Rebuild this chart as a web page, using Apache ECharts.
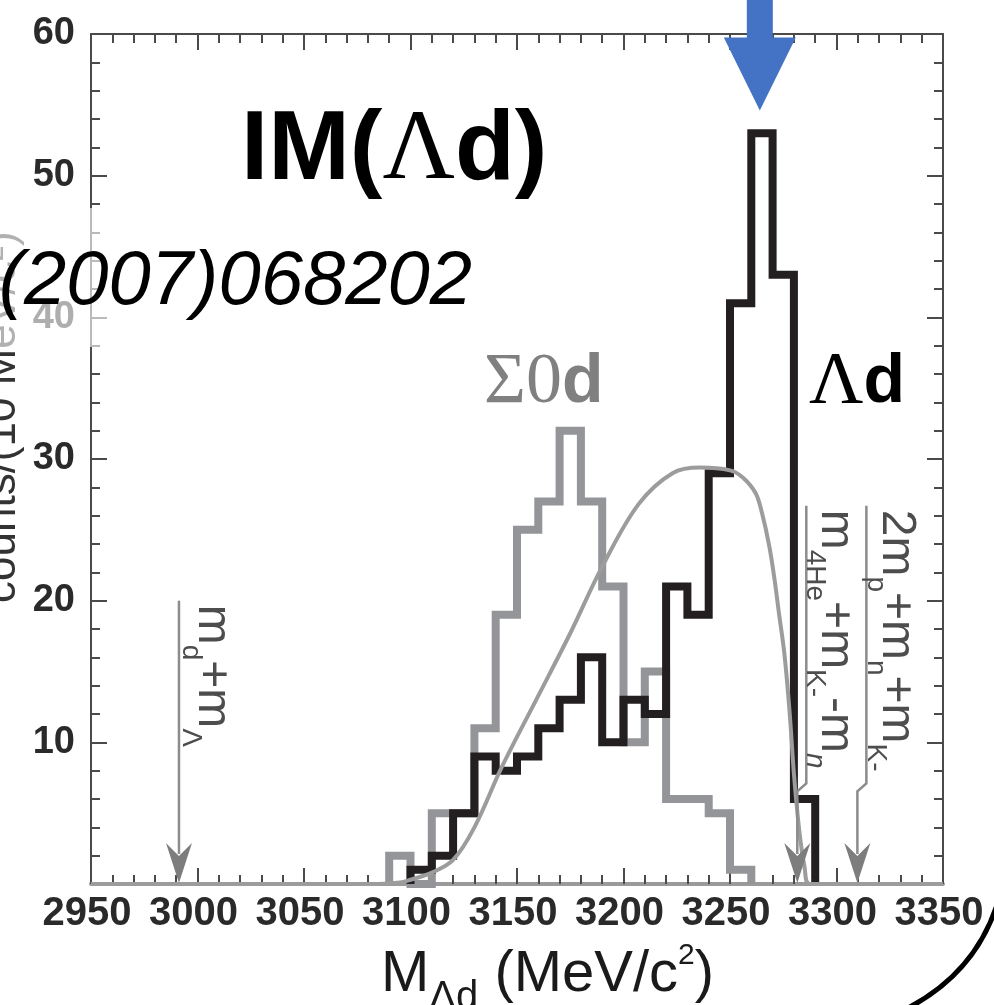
<!DOCTYPE html>
<html>
<head>
<meta charset="utf-8">
<title>IM(Λd)</title>
<script src="https://cdn.jsdelivr.net/npm/echarts@6/dist/echarts.min.js"></script>
<style>
    html, body { margin: 0; padding: 0; background: #fff; }
    #chart { width: 994px; height: 1005px; }
</style>
</head>
<body>
<div id="chart"></div>
<script>
// histogram bins are 10 MeV wide
var binWidth = 10;
var lambdaStart = 3100;
var lambdaCounts = [1, 2, 5, 9, 8, 9, 11, 13, 16, 10, 13, 12, 21, 19, 29, 41, 53, 43, 6];
var sigmaStart = 3090;
var sigmaCounts = [2, 0, 5, 5, 11, 19, 25, 27, 32, 27, 21, 10, 15, 6, 6, 5, 1];

// phase space curve
var phaseMass = [2950, 3085, 3095, 3100, 3110, 3120, 3130, 3143, 3159, 3175, 3190, 3207, 3223, 3236, 3250, 3256, 3262, 3265, 3268.5, 3271, 3273, 3275.5, 3278, 3280, 3282.5, 3285, 3287.5, 3350];
var phaseCounts = [0, 0, 0.1, 0.3, 0.8, 1.7, 4.0, 8.3, 13, 17.7, 22.4, 26.8, 29, 29.4, 29.2, 28.7, 27.6, 26.2, 23.8, 21.4, 19.1, 16.3, 12.1, 7.8, 3.8, 1.2, 0, 0];

// thresholds: mass, top of the arrow line, where the line steps aside
var thresholdMass = [2991.3, 3281.6, 3309.8];
var thresholdTop = [20, 26.7, 26.7];
var thresholdKink = [null, 7.1, 7.1];
var thresholdText = [
    '{m|m}{s|d}{m|+m}{s|Λ}',
    '{m|m}{s|4He}{m|+m}{s|K-}{m|-m}{n|n}',
    '{m|2m}{s|p}{m|+m}{s|n}{m|+m}{s|K-}'
];

// blue arrow pointing at the peak
var peakMass = 3264;
var peakCounts = 54.6;

var chart = echarts.init(document.getElementById('chart'));

function histData(start, counts) {
    var d = [[start, 0]];
    for (var i = 0; i < counts.length; i++) {
        d.push([start + i * binWidth, counts[i]]);
    }
    d.push([start + counts.length * binWidth, 0]);
    return d;
}

var phaseData = phaseMass.map(function (m, i) { return [m, phaseCounts[i]]; });

var frame = '#4a4a4a';
var font = 'Liberation Sans, Arial, sans-serif';
var tick = { show: true, inside: true, length: 16, lineStyle: { color: frame, width: 2 } };
var minor = { show: true, splitNumber: 5, length: 9, lineStyle: { color: frame, width: 2 } };
var plain = function (v) { return String(v); };

var option = {
    backgroundColor: '#fff',
    animation: false,
    grid: { left: 91, right: 51, top: 34, bottom: 121 },
    xAxis: [{
        type: 'value', min: 2950, max: 3350, interval: 50,
        axisLine: { show: true, onZero: false, lineStyle: { color: '#9a9a9a', width: 4 } },
        axisTick: tick, minorTick: minor,
        splitLine: { show: false },
        axisLabel: { fontSize: 40, fontWeight: 'bold', color: '#2a2a2a', margin: 10, fontFamily: font, padding: [0, 8, 0, 0], formatter: plain }
    }, {
        type: 'value', position: 'top', min: 2950, max: 3350, interval: 50,
        axisLine: { show: true, onZero: false, lineStyle: { color: frame, width: 2 } },
        axisTick: tick, minorTick: minor,
        splitLine: { show: false }, axisLabel: { show: false }
    }],
    yAxis: [{
        type: 'value', min: 0, max: 60, interval: 10,
        axisLine: { show: true, onZero: false, lineStyle: { color: frame, width: 2 } },
        axisTick: tick, minorTick: minor,
        splitLine: { show: false },
        axisLabel: { fontSize: 38, fontWeight: 'bold', color: '#2a2a2a', margin: 16, fontFamily: font, padding: [6, 0, 0, 0], showMinLabel: false, formatter: plain }
    }, {
        type: 'value', position: 'right', min: 0, max: 60, interval: 10,
        axisLine: { show: true, onZero: false, lineStyle: { color: frame, width: 2 } },
        axisTick: tick, minorTick: minor,
        splitLine: { show: false }, axisLabel: { show: false }
    }],
    series: [{
        name: 'Σ0d', type: 'line', step: 'end', z: 2,
        data: histData(sigmaStart, sigmaCounts),
        showSymbol: false,
        lineStyle: { color: '#939598', width: 8, join: 'miter' }
    }, {
        name: 'Λd', type: 'line', step: 'end', z: 3,
        data: histData(lambdaStart, lambdaCounts),
        showSymbol: false,
        lineStyle: { color: '#231f20', width: 8, join: 'miter' }
    }, {
        name: 'phase space', type: 'line', smooth: 0.35, z: 4,
        data: phaseData,
        showSymbol: false,
        lineStyle: { color: '#9c9c9c', width: 4 }
    }]
};

chart.setOption(option);

// annotations, placed through the chart's own scales
function px(v, c) {
    return chart.convertToPixel({ gridIndex: 0 }, [v, c]);
}

function arrowHead(x, y, color) {
    return {
        type: 'polygon', z: 50,
        shape: { points: [[x, y], [x - 13, y - 40], [x, y - 27], [x + 13, y - 40]] },
        style: { fill: color }
    };
}

// sub tokens sit at the bottom of a taller line box, main tokens at its top
var labelRich = {
    m: { fontSize: 48, fontFamily: font, fill: '#4d4d4d', lineHeight: 48, verticalAlign: 'top' },
    s: { fontSize: 28, fontFamily: font, fill: '#4d4d4d', lineHeight: 59, verticalAlign: 'bottom' },
    n: { fontSize: 28, fontFamily: font, fontStyle: 'italic', fill: '#4d4d4d', lineHeight: 59, verticalAlign: 'bottom' }
};
var labelShift = [57, 62, 63];

var g = [];

thresholdMass.forEach(function (m, i) {
    var base = px(m, 0);
    var top = px(m, thresholdTop[i]);
    var pts;
    if (thresholdKink[i] === null) {
        pts = [[base[0], top[1]], [base[0], base[1] - 30]];
    } else {
        var ky = px(m, thresholdKink[i])[1];
        pts = [[base[0] + 9, top[1]], [base[0] + 9, ky], [base[0], ky + 8], [base[0], base[1] - 30]];
    }
    g.push({
        type: 'polyline', z: 50,
        shape: { points: pts },
        style: { stroke: '#8c8c8c', lineWidth: 2.5, fill: null }
    });
    g.push(arrowHead(base[0], base[1] - 1, '#7d7d7d'));
    g.push({
        type: 'text', z: 50,
        x: base[0] + labelShift[i], y: top[1] + 4, rotation: -Math.PI / 2,
        style: { text: thresholdText[i], align: 'left', verticalAlign: 'top', rich: labelRich }
    });
});

// blue arrow
var tip = px(peakMass, peakCounts);
g.push({
    type: 'polygon', z: 60,
    shape: {
        points: [[tip[0], tip[1]], [tip[0] + 36, tip[1] - 73], [tip[0] + 13, tip[1] - 73], [tip[0] + 13, -10],
            [tip[0] - 13, -10], [tip[0] - 13, tip[1] - 73], [tip[0] - 36, tip[1] - 73]]
    },
    style: { fill: '#4472c4' }
});

// y axis title, mostly cut off on the left
g.push({
    type: 'text', z: 40,
    x: 3, y: 603, rotation: Math.PI / 2,
    style: { text: 'counts/(10 MeV/c²)', font: '44px ' + font, fill: '#333', align: 'left', verticalAlign: 'middle' }
});

// x axis title
g.push({
    type: 'text', z: 40,
    x: 381, y: 946,
    style: {
        text: '{m|M}{sub|Λd}{m| (MeV/c}{sup|2}{m|)}', align: 'left', verticalAlign: 'top',
        rich: {
            m: { fontSize: 58, fontFamily: font, fill: '#1a1a1a', lineHeight: 58, verticalAlign: 'top' },
            sub: { fontSize: 40, fontFamily: font, fill: '#1a1a1a', lineHeight: 72, verticalAlign: 'bottom' },
            sup: { fontSize: 30, height: 20, fontFamily: font, fill: '#1a1a1a', lineHeight: 24, verticalAlign: 'top' }
        }
    }
});

// pasted text box over the axis
g.push({
    type: 'rect', z: 70,
    shape: { x: 0, y: 208, width: 480, height: 139 },
    style: { fill: 'rgba(255,255,255,0.62)' }
});
g.push({
    type: 'text', z: 80,
    x: 472, y: 283,
    style: { text: '(2007)068202', font: 'italic 76px ' + font, fill: '#000', align: 'right', verticalAlign: 'middle' }
});

// big title and histogram tags
g.push({
    type: 'text', z: 80,
    x: 241, y: 152,
    style: {
        text: '{b|IM(}{l|Λ}{b|d)}', align: 'left', verticalAlign: 'middle',
        rich: {
            b: { fontSize: 98, fontWeight: 'bold', fontFamily: font, fill: '#000' },
            l: { fontSize: 100, fontFamily: 'Liberation Serif, serif', fill: '#000' }
        }
    }
});
g.push({
    type: 'text', z: 80,
    x: 484, y: 383,
    style: {
        text: '{s|Σ0}{d|d}', align: 'left', verticalAlign: 'middle',
        rich: {
            s: { fontSize: 72, fontFamily: 'Liberation Serif, serif', fill: '#808080' },
            d: { fontSize: 68, fontWeight: 'bold', fontFamily: font, fill: '#808080' }
        }
    }
});
g.push({
    type: 'text', z: 80,
    x: 809, y: 383,
    style: {
        text: '{s|Λ}{d|d}', align: 'left', verticalAlign: 'middle',
        rich: {
            s: { fontSize: 75, fontFamily: 'Liberation Serif, serif', fill: '#000' },
            d: { fontSize: 68, fontWeight: 'bold', fontFamily: font, fill: '#000' }
        }
    }
});

// arc at the lower right corner
g.push({
    type: 'bezierCurve', z: 80,
    shape: { x1: 1000, y1: 895, cpx1: 978, cpy1: 975, x2: 900, y2: 1012 },
    style: { stroke: '#000', lineWidth: 5, fill: null }
});

chart.setOption({ graphic: g });
</script>
</body>
</html>
